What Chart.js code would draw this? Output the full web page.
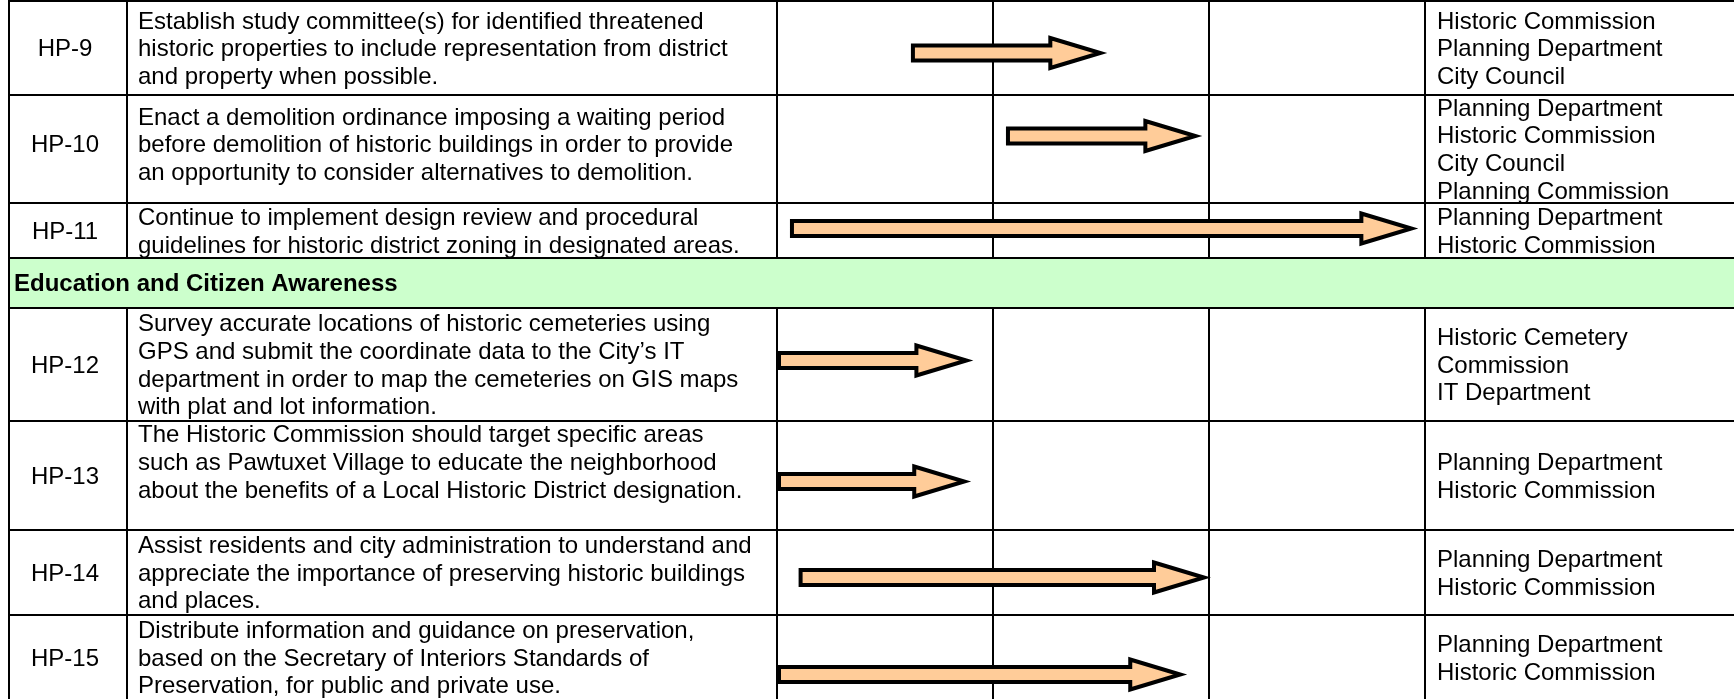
<!DOCTYPE html>
<html lang="en">
  <head>
    <meta charset="UTF-8" />
    <title>Historic Preservation - Implementation Schedule</title>
    <script src="https://cdn.jsdelivr.net/npm/chart.js"></script>
    <style>
      html,
      body {
        margin: 0;
        padding: 0;
        background: #ffffff;
      }
      canvas {
        display: block;
      }
    </style>
  </head>
  <body>
    <canvas id="schedule" width="1734" height="699"></canvas>

    <script>
      // ---- data ----
      const ids = ["HP-9", "HP-10", "HP-11", "HP-12", "HP-13", "HP-14", "HP-15"];
      const actions = [
        [
          "Establish study committee(s) for identified threatened",
          "historic properties to include representation from district",
          "and property when possible.",
        ],
        [
          "Enact a demolition ordinance imposing a waiting period",
          "before demolition of historic buildings in order to provide",
          "an opportunity to consider alternatives to demolition.",
        ],
        [
          "Continue to implement design review and procedural",
          "guidelines for historic district zoning in designated areas.",
        ],
        [
          "Survey accurate locations of historic cemeteries using",
          "GPS and submit the coordinate data to the City\u2019s IT",
          "department in order to map the cemeteries on GIS maps",
          "with plat and lot information.",
        ],
        [
          "The Historic Commission should target specific areas",
          "such as Pawtuxet Village to educate the neighborhood",
          "about the benefits of a Local Historic District designation.",
          "",
        ],
        [
          "Assist residents and city administration to understand and",
          "appreciate the importance of preserving historic buildings",
          "and places.",
        ],
        [
          "Distribute information and guidance on preservation,",
          "based on the Secretary of Interiors Standards of",
          "Preservation, for public and private use.",
        ],
      ];
      // timeframe in periods (three periods across the schedule columns)
      const startPeriod = [0.62, 1.06, 0.06, 0.0, 0.0, 0.1, 0.0];
      const endPeriod = [1.52, 1.96, 2.96, 0.9, 0.89, 2.0, 1.89];
      const responsible = [
        ["Historic Commission", "Planning Department", "City Council"],
        ["Planning Department", "Historic Commission", "City Council", "Planning Commission"],
        ["Planning Department", "Historic Commission"],
        ["Historic Cemetery", "Commission", "IT Department"],
        ["Planning Department", "Historic Commission"],
        ["Planning Department", "Historic Commission"],
        ["Planning Department", "Historic Commission"],
      ];
      const sectionTitle = "Education and Citizen Awareness";
      const sectionBefore = 3; // section row sits before HP-12
      const periodCount = 3;

      // ---- layout ----
      const tableTop = 1;
      const rowHeights = [94, 108, 55, 50, 113, 109, 85, 85];
      const arrowShift = [5, -13, -2, -4, 6, 5, 17];
      const textShift = [0, -5, 0, 0, 0, 0, 0];
      const colLeft = 9;
      const colId = 127;
      const lineGap = 27.6;
      const font = '"Liberation Sans", Arial, sans-serif';

      // top/bottom of each item row (section row skipped)
      const rowBox = [];
      let cursor = tableTop;
      let sectionBox = null;
      let r = 0;
      for (let i = 0; i < ids.length; i++) {
        if (i === sectionBefore) {
          sectionBox = { top: cursor, bottom: cursor + rowHeights[r] };
          cursor += rowHeights[r++];
        }
        rowBox.push({ top: cursor, bottom: cursor + rowHeights[r] });
        cursor += rowHeights[r++];
      }
      const rowMid = (i) => (rowBox[i].top + rowBox[i].bottom) / 2;

      function drawLines(ctx, lines, x, top, bottom, align) {
        const blockTop = (top + bottom) / 2 - (lines.length * lineGap) / 2;
        ctx.textAlign = align;
        lines.forEach((t, k) => {
          ctx.fillText(t, x, blockTop + k * lineGap + 22);
        });
      }

      const tablePlugin = {
        id: "tablePlugin",
        beforeDatasetsDraw(chart) {
          const ctx = chart.ctx;
          const xs = chart.scales.x;
          const W = chart.width;
          ctx.save();
          ctx.fillStyle = "#ffffff";
          ctx.fillRect(0, 0, W, chart.height);

          // section band
          ctx.fillStyle = "#CCFFCC";
          ctx.fillRect(colLeft, sectionBox.top, W - colLeft, sectionBox.bottom - sectionBox.top);

          ctx.fillStyle = "#000000";
          ctx.textBaseline = "alphabetic";
          ctx.font = "bold 24px " + font;
          ctx.textAlign = "left";
          ctx.fillText(sectionTitle, colLeft + 5, (sectionBox.top + sectionBox.bottom) / 2 + 8);

          ctx.font = "24px " + font;
          const respX = xs.getPixelForValue(periodCount) + 12;
          ids.forEach((id, i) => {
            const { top, bottom } = rowBox[i];
            const s = textShift[i];
            drawLines(ctx, [id], (colLeft + colId) / 2 - 3, top + s, bottom + s, "center");
            drawLines(ctx, actions[i], colId + 11, top + s, bottom + s, "left");
            drawLines(ctx, responsible[i], respX, top, bottom, "left");
          });

          // grid
          const lw = 2;
          const hline = (y) => ctx.fillRect(colLeft - 1, Math.round(y) - 1, W, lw);
          const vline = (x, a, b) => ctx.fillRect(Math.round(x) - 1, a - 1, lw, b - a + 1);
          hline(tableTop);
          rowBox.forEach((b) => {
            hline(b.top);
            hline(b.bottom);
            const cols = [colLeft, colId];
            for (let p = 0; p <= periodCount; p++) cols.push(xs.getPixelForValue(p));
            cols.forEach((x) => vline(x, b.top, b.bottom));
          });
          vline(colLeft, sectionBox.top, sectionBox.bottom);
          ctx.restore();
        },
        afterDatasetsDraw(chart) {
          const ctx = chart.ctx;
          const meta = chart.getDatasetMeta(0);
          ctx.save();
          meta.data.forEach((el) => {
            const { x, y, base, height } = el.getProps(["x", "y", "base", "height"], true);
            const h = height / 2;
            const H = 15;
            const head = 50;
            const x0 = Math.min(x, base) + 2;
            const x1 = Math.max(x, base) - 5;
            ctx.beginPath();
            ctx.moveTo(x0, y - h);
            ctx.lineTo(x1 - head, y - h);
            ctx.lineTo(x1 - head, y - H);
            ctx.lineTo(x1, y);
            ctx.lineTo(x1 - head, y + H);
            ctx.lineTo(x1 - head, y + h);
            ctx.lineTo(x0, y + h);
            ctx.closePath();
            ctx.fillStyle = "#FFCC99";
            ctx.fill();
            ctx.lineWidth = 4;
            ctx.lineJoin = "miter";
            ctx.strokeStyle = "#000000";
            ctx.stroke();
          });
          ctx.restore();
        },
      };

      new Chart(document.getElementById("schedule"), {
        type: "bar",
        data: {
          datasets: [
            {
              label: "Timeframe",
              data: ids.map((id, i) => ({
                x: [startPeriod[i], endPeriod[i]],
                y: rowMid(i) + arrowShift[i],
              })),
              backgroundColor: "rgba(0,0,0,0)",
              borderWidth: 0,
              barThickness: 15,
            },
          ],
        },
        options: {
          indexAxis: "y",
          responsive: false,
          animation: false,
          layout: { padding: { left: 777, right: 1734 - 1425, top: 0, bottom: 0 } },
          scales: {
            x: { type: "linear", min: 0, max: periodCount, display: false, offset: false },
            y: { type: "linear", min: 0, max: 699, reverse: true, display: false, offset: false },
          },
          plugins: {
            legend: { display: false },
            tooltip: { enabled: false },
          },
        },
        plugins: [tablePlugin],
      });
    </script>
  </body>
</html>
